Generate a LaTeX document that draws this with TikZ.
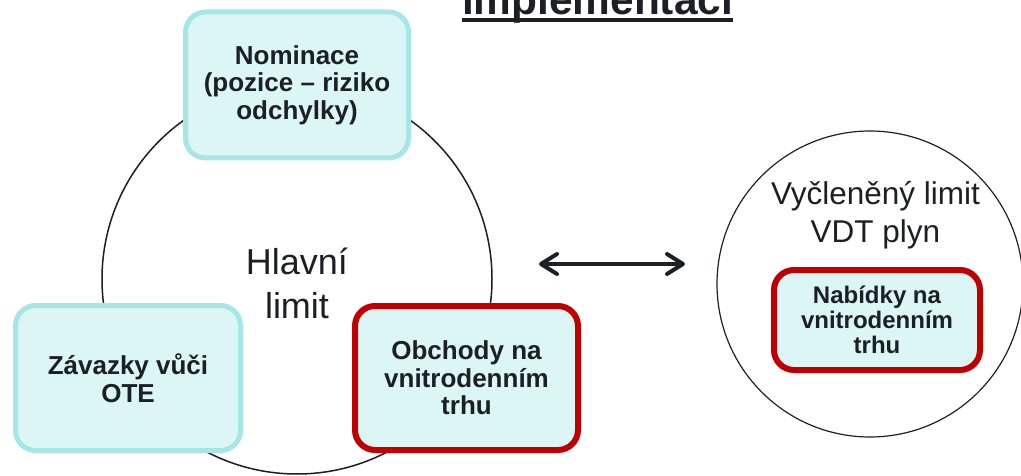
\documentclass[tikz,border=0pt]{standalone}
\usepackage{fontspec}
\setmainfont{Liberation Sans}
\usetikzlibrary{arrows.meta}
\definecolor{tc}{RGB}{28,32,36}
\definecolor{cyb}{RGB}{166,230,230}
\definecolor{cyf}{RGB}{220,245,245}
\definecolor{rb}{RGB}{192,0,0}
\tikzset{
  cbox/.style={draw=cyb, fill=cyf, line width=5pt, rounded corners=20pt, text=tc,
    font=\fontsize{26}{27.5}\selectfont\bfseries, align=center, inner sep=0pt},
  rbox/.style={cbox, draw=rb, line width=6pt},
  ring/.style={circle, draw=tc, inner sep=0pt},
  plain/.style={text=tc, align=center, inner sep=0pt},
  barb/.tip={Straight Barb[length=16pt,width=20pt,round]}
}
\begin{document}
\begin{tikzpicture}[x=1pt,y=-1pt]
\useasboundingbox (0,0) rectangle (1021,476);
\clip (0,0) rectangle (1021,476);
% title (cut at top)
\node[plain, font=\fontsize{42.4}{50}\selectfont\bfseries, anchor=base] (title) at (597.5,15) {implementaci};
\draw[tc, line width=4pt] ([yshift=-5pt]title.base west) -- ([yshift=-5pt]title.base east);
% main circle
\node[ring, line width=1.5pt, minimum size=390pt] (main) at (297,279) {};
\node[plain, font=\fontsize{36}{44}\selectfont] (hl) at (297,283) {Hlavní\\limit};
% boxes on the main circle
\node[cbox, minimum width=223pt, minimum height=146pt] (nom) at (297,85) {Nominace\\(pozice – riziko\\odchylky)};
\node[cbox, minimum width=225pt, minimum height=145pt] (zav) at (128,378) {Závazky vůči\\OTE};
\node[rbox, minimum width=223pt, minimum height=144pt] (obch) at (466.5,378) {Obchody na\\vnitrodenním\\trhu};
% arrow
\coordinate (al) at (539,264);
\coordinate (ar) at (685,264);
\draw[tc, line width=4pt, barb-barb] (al) -- (ar);
% right circle
\node[ring, line width=1.2pt, minimum size=306pt] (vdt) at (870,284) {};
\node[plain, font=\fontsize{31.5}{38}\selectfont] (vdtt) at (875.5,215) {Vyčleněný limit\\VDT plyn};
\node[rbox, minimum width=206pt, minimum height=100pt, font=\fontsize{24}{25}\selectfont\bfseries] (nab) at (877,320) {Nabídky na\\vnitrodenním\\trhu};
\end{tikzpicture}
\end{document}
